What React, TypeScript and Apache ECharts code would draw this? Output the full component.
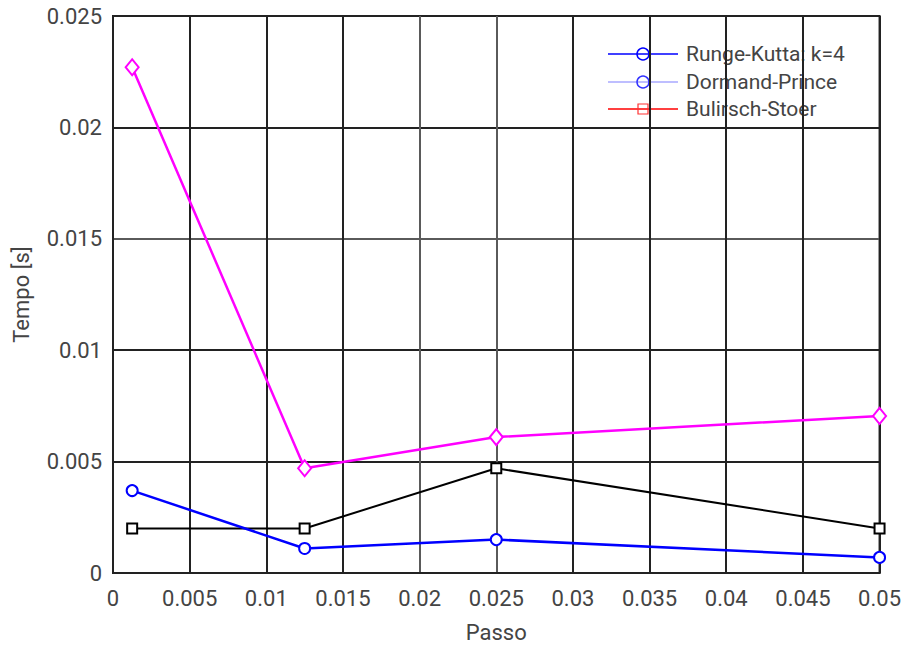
import React, { useEffect, useRef } from "react";
import * as echarts from "echarts";

const passo = [0.00125, 0.0125, 0.025, 0.05];
const tempoRungeKutta = [0.0037, 0.0011, 0.0015, 0.0007];
const tempoDormandPrince = [0.0227, 0.0047, 0.0061, 0.00705];
const tempoBulirschStoer = [0.002, 0.002, 0.0047, 0.002];
const legendLabels = ["Runge-Kutta: k=4", "Dormand-Prince", "Bulirsch-Stoer"];
const xAxisName = "Passo";
const yAxisName = "Tempo [s]";

const fmt = (v: number) => String(parseFloat(v.toFixed(5)));

export default function App() {
  const ref = useRef<HTMLDivElement>(null);
  useEffect(() => {
    if (!ref.current) return;
    const chart = echarts.init(ref.current, undefined, { renderer: "svg" });
    const pts = (vals: number[]) => passo.map((x, i) => [x, vals[i]]);
    const textColor = "#444444";
    const dark = "#222222";
    const thin = "#5a5a5a";
    const legX = 608;
    const legY = [54, 82, 109];
    const legFont = "21px Roboto";
    chart.setOption({
      animation: false,
      backgroundColor: "#ffffff",
      grid: {
        left: 113,
        right: 24,
        top: 16,
        bottom: 71,
        show: true,
        borderColor: dark,
        borderWidth: 2,
      },
      xAxis: {
        type: "value",
        min: 0,
        max: 0.05,
        interval: 0.005,
        name: xAxisName,
        nameLocation: "middle",
        nameGap: 48,
        nameTextStyle: { fontFamily: "Roboto", fontSize: 22, color: textColor },
        axisLine: { show: true, lineStyle: { color: dark, width: 2 } },
        axisTick: { show: false },
        axisLabel: {
          fontFamily: "Roboto",
          fontSize: 22,
          color: textColor,
          margin: 14,
          formatter: (v: number) => fmt(v),
        },
        splitLine: {
          show: true,
          lineStyle: {
            width: 2,
            color: [dark, dark, dark, dark, thin, thin, dark, dark, dark, dark, dark],
          },
        },
      },
      yAxis: {
        type: "value",
        min: 0,
        max: 0.025,
        interval: 0.005,
        name: yAxisName,
        nameLocation: "middle",
        nameGap: 81,
        nameTextStyle: { fontFamily: "Roboto", fontSize: 22, color: textColor },
        axisLine: { show: true, lineStyle: { color: dark, width: 2 } },
        axisTick: { show: false },
        axisLabel: {
          fontFamily: "Roboto",
          fontSize: 22,
          color: textColor,
          margin: 11,
          formatter: (v: number) => fmt(v),
        },
        splitLine: {
          show: true,
          lineStyle: { width: 2, color: [dark, dark, dark, thin, dark, dark] },
        },
      },
      series: [
        {
          type: "line",
          data: pts(tempoDormandPrince),
          symbol: "emptyDiamond",
          symbolSize: [13, 16],
          lineStyle: { color: "#ff00ff", width: 2.5 },
          itemStyle: { color: "#ff00ff", borderWidth: 2.5 },
          z: 4,
        },
        {
          type: "line",
          data: pts(tempoBulirschStoer),
          symbol: "emptyRect",
          symbolSize: 10,
          lineStyle: { color: "#000000", width: 2 },
          itemStyle: { color: "#000000", borderWidth: 3 },
          z: 3,
        },
        {
          type: "line",
          data: pts(tempoRungeKutta),
          symbol: "emptyCircle",
          symbolSize: 11,
          lineStyle: { color: "#0000ff", width: 2.5 },
          itemStyle: { color: "#0000ff", borderWidth: 3 },
          z: 5,
        },
      ],
      graphic: [
        { type: "line", shape: { x1: legX, y1: legY[0], x2: legX + 70, y2: legY[0] }, style: { stroke: "#0000ff", lineWidth: 1.5 } },
        { type: "circle", shape: { cx: legX + 35, cy: legY[0], r: 6 }, style: { fill: "none", stroke: "#0000ff", lineWidth: 1.5 } },
        { type: "text", x: legX + 78, y: legY[0], style: { text: legendLabels[0], font: legFont, fill: textColor, verticalAlign: "middle" } },
        { type: "line", shape: { x1: legX, y1: legY[1], x2: legX + 70, y2: legY[1] }, style: { stroke: "#a8a8ff", lineWidth: 1.5 } },
        { type: "circle", shape: { cx: legX + 35, cy: legY[1], r: 6 }, style: { fill: "none", stroke: "#3333ff", lineWidth: 1.5 } },
        { type: "text", x: legX + 78, y: legY[1], style: { text: legendLabels[1], font: legFont, fill: textColor, verticalAlign: "middle" } },
        { type: "line", shape: { x1: legX, y1: legY[2], x2: legX + 70, y2: legY[2] }, style: { stroke: "#ff0000", lineWidth: 1.5 } },
        { type: "rect", shape: { x: legX + 30, y: legY[2] - 5, width: 10, height: 10 }, style: { fill: "none", stroke: "#ff3333", lineWidth: 1.2 } },
        { type: "text", x: legX + 78, y: legY[2], style: { text: legendLabels[2], font: legFont, fill: textColor, verticalAlign: "middle" } },
      ],
    });
    return () => chart.dispose();
  }, []);
  return (
    <div
      ref={ref}
      style={{ position: "absolute", left: 0, top: 0, width: 904, height: 648 }}
    />
  );
}
